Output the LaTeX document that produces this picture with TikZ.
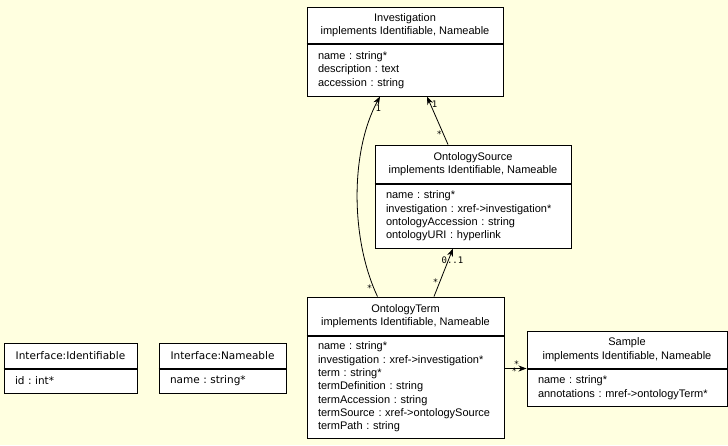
\documentclass[tikz,border=0pt]{standalone}
\usepackage{fontspec}
\setmainfont{Liberation Sans}
\newfontfamily\ifacefont{DejaVu Sans}
\newfontfamily\multfont{DejaVu Sans Mono}
\usetikzlibrary{arrows.meta}
\definecolor{paper}{RGB}{255,255,224}
\frenchspacing

\begin{document}
\begin{tikzpicture}
        [x=1pt, y=-1pt, font=\fontsize{11}{13.3}\selectfont,
         hdr/.style={draw, fill=white, line width=1pt, align=center, inner sep=0pt},
         attrs/.style={draw, fill=white, line width=1pt, align=left, inner xsep=11pt, inner ysep=0pt, anchor=north},
         iface/.style={font=\ifacefont\fontsize{10.5}{13.3}\selectfont},
         mult/.style={font=\multfont\fontsize{9}{10}\selectfont, inner sep=1pt},
         dep/.style={-{Stealth[length=8pt, width=6pt, inset=2.5pt]}, line width=0.8pt}]

        \fill[paper] (0,0) rectangle (728,445);
        \useasboundingbox (0,0) rectangle (728,445);

        \node[hdr, minimum width=196pt, minimum height=36pt] (inv) at (405, 25) {Investigation\\implements Identifiable, Nameable};
        \node[attrs, text width=174pt, minimum height=52pt] (invb) at (inv.south) {name : string*\\description : text\\accession : string};

        \node[hdr, minimum width=196pt, minimum height=38pt] (osrc) at (473, 164) {OntologySource\\implements Identifiable, Nameable};
        \node[attrs, text width=174pt, minimum height=64pt] (osrcb) at (osrc.south) {name : string*\\investigation : xref->investigation*\\ontologyAccession : string\\ontologyURI : hyperlink};

        \node[hdr, minimum width=197pt, minimum height=38pt] (term) at (405.5, 316) {OntologyTerm\\implements Identifiable, Nameable};
        \node[attrs, text width=175pt, minimum height=102pt] (termb) at (term.south) {name : string*\\investigation : xref->investigation*\\term : string*\\termDefinition : string\\termAccession : string\\termSource : xref->ontologySource\\termPath : string};

        \node[hdr, minimum width=200pt, minimum height=37pt] (smp) at (627, 349.5) {Sample\\implements Identifiable, Nameable};
        \node[attrs, text width=178pt, minimum height=37pt] (smpb) at (smp.south) {name : string*\\annotations : mref->ontologyTerm*};

        \node[hdr, iface, minimum width=133pt, minimum height=25pt] (ident) at (70.5, 355.5) {Interface:Identifiable};
        \node[attrs, iface, text width=111pt, minimum height=24pt] (identb) at (ident.south) {id : int*};

        \node[hdr, iface, minimum width=127pt, minimum height=25pt] (nameab) at (222.5, 355.5) {Interface:Nameable};
        \node[attrs, iface, text width=105pt, minimum height=24pt] (nameabb) at (nameab.south) {name : string*};

        % heavier rule between name and fields
        \foreach \b in {invb, osrcb, termb, smpb, identb, nameabb}
          \draw[line width=1.8pt] (\b.north west) -- (\b.north east);

        \draw[dep] ([xshift=-25pt]osrc.north) -- ([xshift=22pt]invb.south)
          node[mult, pos=0.84, right] {1} node[mult, pos=0.22, left] {*};
        \draw[dep] ([xshift=-28pt]term.north) .. controls +(-27,-57) and +(-30,55) .. ([xshift=-25pt]invb.south)
          node[mult, pos=0.93, right] {1} node[mult, pos=0.05, left] {*};
        \draw[dep] ([xshift=28.5pt]term.north) -- ([xshift=-20pt]osrcb.south)
          node[mult, pos=0.76, xshift=4pt] {0..1} node[mult, pos=0.3, left] {*};
        \draw[dep] (termb.east |- smpb.north west) -- (smpb.north west)
          node[mult, pos=0.55, above=0pt] {*} node[mult, pos=0.45, below=-2pt] {*};
      \end{tikzpicture}
\end{document}
